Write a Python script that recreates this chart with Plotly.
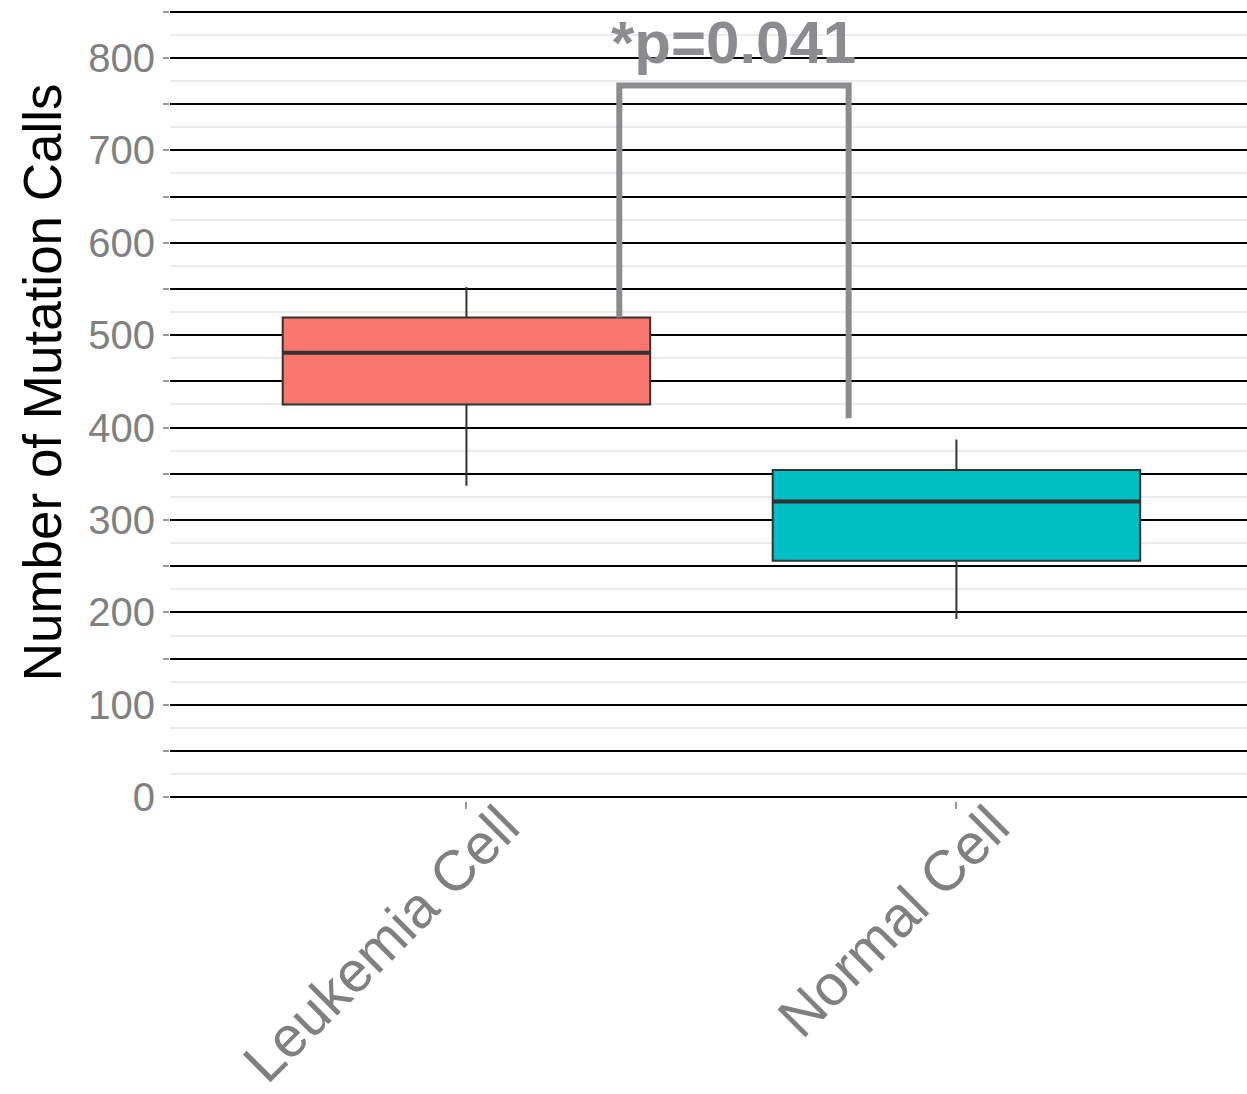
import plotly.graph_objects as go

# Summary statistics of mutation calls per cell group
groups = ["Leukemia Cell", "Normal Cell"]
positions = [1, 2]
lower_whisker = [337, 193]
q1 = [425, 256]
median = [481, 320]
q3 = [519, 354]
upper_whisker = [552, 387]
fill_colors = ["#F8766D", "#00BFC4"]

# Significance annotation
p_label = "*p=0.041"
bracket_top = 770
bracket_right_bottom = 410

y_ticks = list(range(0, 851, 50))
y_ticktext = [str(v) if v % 100 == 0 else "" for v in y_ticks]

BOX_W = 0.75
GREY_TXT = "#808080"
BRACKET = "#8c8c90"
FONT = "Liberation Sans, Arial, sans-serif"

fig = go.Figure()

for g, xpos, lo, a, m, b, hi, col in zip(groups, positions, lower_whisker, q1,
                                          median, q3, upper_whisker, fill_colors):
    fig.add_trace(go.Box(
        x=[xpos], q1=[a], median=[m], q3=[b],
        lowerfence=[lo], upperfence=[hi],
        width=BOX_W, whiskerwidth=0,
        fillcolor=col, line=dict(color="#333333", width=2),
        name=g, showlegend=False, hoverinfo="skip",
    ))
    # thicker median bar
    fig.add_trace(go.Scatter(
        x=[xpos - BOX_W / 2, xpos + BOX_W / 2], y=[m, m], mode="lines",
        line=dict(color="#333333", width=4), showlegend=False, hoverinfo="skip",
    ))

# bracket between the two groups
bx_left, bx_right = 1.312, 1.78
fig.add_trace(go.Scatter(
    x=[bx_left, bx_left, bx_right, bx_right],
    y=[q3[0], bracket_top, bracket_top, bracket_right_bottom],
    mode="lines", line=dict(color=BRACKET, width=6),
    showlegend=False, hoverinfo="skip",
))
fig.add_annotation(
    x=(bx_left + bx_right) / 2, y=bracket_top + 8, xref="x", yref="y",
    text="<b>" + p_label + "</b>", showarrow=False, yanchor="bottom",
    font=dict(family=FONT, size=60, color=BRACKET),
)

# y-axis title
fig.add_annotation(
    x=-0.1188, y=449, xref="paper", yref="y",
    text="Number of Mutation Calls", textangle=-90, showarrow=False,
    xanchor="center", yanchor="middle",
    font=dict(family=FONT, size=53, color="#000000"),
)

fig.update_layout(
    width=1247, height=1094,
    margin=dict(l=170, r=0, t=0, b=293),
    paper_bgcolor="white", plot_bgcolor="white",
    font=dict(family=FONT),
    xaxis=dict(
        range=[0.395, 2.593], tickvals=positions, ticktext=groups,
        tickangle=-45, showgrid=False, zeroline=False, showline=False,
        automargin=False,
        ticks="outside", ticklen=7, tickwidth=2, tickcolor="#999999",
        ticklabelshift=36, ticklabelstandoff=-39,
        tickfont=dict(family=FONT, size=57, color=GREY_TXT),
    ),
    yaxis=dict(
        range=[-4, 862.6], tickvals=y_ticks, ticktext=y_ticktext,
        showgrid=True, gridcolor="#000000", gridwidth=2,
        zeroline=False, showline=False, automargin=False,
        ticks="outside", ticklen=6, tickwidth=2, tickcolor="#999999",
        tickfont=dict(family=FONT, size=40, color=GREY_TXT),
        minor=dict(dtick=25, tick0=0, showgrid=True, gridcolor="#ececec",
                   gridwidth=1.5, ticks=""),
    ),
)

fig.write_html("out.html")
